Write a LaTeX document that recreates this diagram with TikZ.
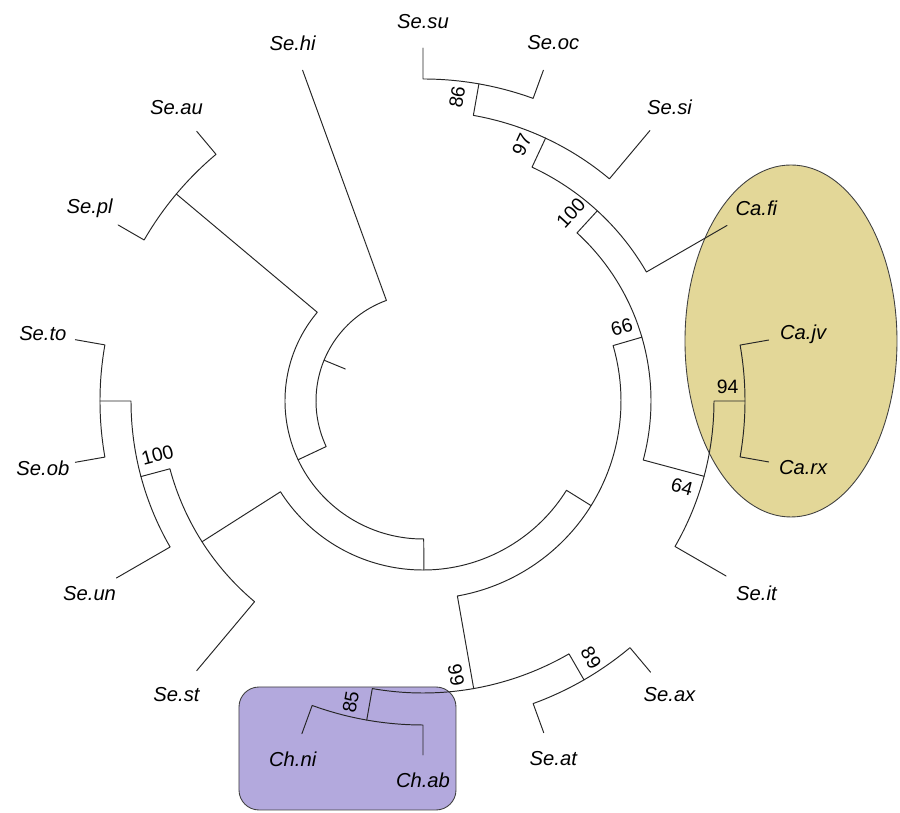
\documentclass[tikz,border=0pt]{standalone}
\usepackage{fontspec}
\setmainfont{Liberation Sans}
\pgfdeclarelayer{shadelayer}
\pgfsetlayers{shadelayer,main}
\definecolor{cladeyellow}{RGB}{227,215,152}
\definecolor{cladepurple}{RGB}{179,169,221}
\tikzstyle{edge}=[draw=black!85, line width=0.55pt, line cap=round, line join=round]
\tikzstyle{shade}=[draw=black!75, line width=0.5pt]
\tikzstyle{taxon}=[font=\fontsize{11.5}{13}\selectfont\itshape, inner sep=0pt]
\tikzstyle{boot}=[font=\fontsize{11}{13}\selectfont, inner sep=0pt]

\begin{document}
\begin{tikzpicture}[x=0.02cm, y=0.02cm]
\useasboundingbox (-423,-412) rectangle (477,401);
						\begin{pgfonlayer}{shadelayer}
							\draw [style=shade, fill=cladeyellow] (368,60) ellipse [x radius=106, y radius=176];
							\draw [style=shade, fill=cladepurple, rounded corners=0.4cm] (-184,-409) rectangle (33,-286);
						\end{pgfonlayer}
						% node and tip positions
						\coordinate (rt) at (157.6:107);
						\coordinate (rtE) at (157.6:84);
						\coordinate (seHi0) at (110:107);
						\coordinate (seHi) at (110:352);
						\coordinate (nB0) at (205.2:107);
						\coordinate (nB) at (205.2:138);
						\coordinate (nQ0) at (140:138);
						\coordinate (nQ) at (140:322);
						\coordinate (seAu0) at (130:322);
						\coordinate (seAu) at (130:352);
						\coordinate (sePl0) at (150:322);
						\coordinate (sePl) at (150:352);
						\coordinate (nC0) at (270.3:138);
						\coordinate (nC) at (270.3:169);
						\coordinate (nF0) at (212.5:169);
						\coordinate (nF) at (212.5:262);
						\coordinate (nE0) at (195:262);
						\coordinate (nE) at (195:292);
						\coordinate (seSt0) at (230:262);
						\coordinate (seSt) at (230:352);
						\coordinate (nT0) at (180:292);
						\coordinate (nT) at (180:323);
						\coordinate (seUn0) at (210:292);
						\coordinate (seUn) at (210:354);
						\coordinate (seTo0) at (170:323);
						\coordinate (seTo) at (170:353);
						\coordinate (seOb0) at (190:323);
						\coordinate (seOb) at (190:353);
						\coordinate (nG0) at (328.1:169);
						\coordinate (nG) at (328.1:198);
						\coordinate (nH0) at (280:198);
						\coordinate (nH) at (280:292);
						\coordinate (nJ0) at (260:292);
						\coordinate (nJ) at (260:324);
						\coordinate (nI0) at (300:292);
						\coordinate (nI) at (300:322);
						\coordinate (chNi0) at (250:324);
						\coordinate (chNi) at (250:354);
						\coordinate (chAb0) at (270:324);
						\coordinate (chAb) at (270:354);
						\coordinate (seAt0) at (290:322);
						\coordinate (seAt) at (290:353);
						\coordinate (seAx0) at (310:322);
						\coordinate (seAx) at (310:354);
						\coordinate (nK0) at (16.25:198);
						\coordinate (nK) at (16.25:228);
						\coordinate (nL0) at (47.5:228);
						\coordinate (nL) at (47.5:258);
						\coordinate (nO0) at (345:228);
						\coordinate (nO) at (345:291);
						\coordinate (caFi0) at (30:258);
						\coordinate (caFi) at (30:351);
						\coordinate (nN0) at (65:258);
						\coordinate (nN) at (65:290);
						\coordinate (seSi0) at (50:290);
						\coordinate (seSi) at (50:353);
						\coordinate (nM0) at (80:290);
						\coordinate (nM) at (80:322);
						\coordinate (seOc0) at (70:322);
						\coordinate (seOc) at (70:352);
						\coordinate (seSu0) at (90:322);
						\coordinate (seSu) at (90:353);
						\coordinate (seIt0) at (330:291);
						\coordinate (seIt) at (330:350);
						\coordinate (nP0) at (0:291);
						\coordinate (nP) at (0:322);
						\coordinate (caRx0) at (350:322);
						\coordinate (caRx) at (350:351);
						\coordinate (caJv0) at (10:322);
						\coordinate (caJv) at (10:351);
						% brackets
						\draw [style=edge] (rt) to (rtE);
						\draw [style=edge] (seHi) -- (seHi0) arc [start angle=110, end angle=205.2, radius=107] -- (nB);
						\draw [style=edge] (nQ) -- (nQ0) arc [start angle=140, end angle=270.3, radius=138] -- (nC);
						\draw [style=edge] (seAu) -- (seAu0) arc [start angle=130, end angle=150, radius=322] -- (sePl);
						\draw [style=edge] (nF) -- (nF0) arc [start angle=212.5, end angle=328.1, radius=169] -- (nG);
						\draw [style=edge] (nE) -- (nE0) arc [start angle=195, end angle=230, radius=262] -- (seSt);
						\draw [style=edge] (nT) -- (nT0) arc [start angle=180, end angle=210, radius=292] -- (seUn);
						\draw [style=edge] (seTo) -- (seTo0) arc [start angle=170, end angle=190, radius=323] -- (seOb);
						\draw [style=edge] (nH) -- (nH0) arc [start angle=280, end angle=376.25, radius=198] -- (nK);
						\draw [style=edge] (nJ) -- (nJ0) arc [start angle=260, end angle=300, radius=292] -- (nI);
						\draw [style=edge] (chNi) -- (chNi0) arc [start angle=250, end angle=270, radius=324] -- (chAb);
						\draw [style=edge] (seAt) -- (seAt0) arc [start angle=290, end angle=310, radius=322] -- (seAx);
						\draw [style=edge] (nO) -- (nO0) arc [start angle=345, end angle=407.5, radius=228] -- (nL);
						\draw [style=edge] (caFi) -- (caFi0) arc [start angle=30, end angle=65, radius=258] -- (nN);
						\draw [style=edge] (seSi) -- (seSi0) arc [start angle=50, end angle=80, radius=290] -- (nM);
						\draw [style=edge] (seOc) -- (seOc0) arc [start angle=70, end angle=90, radius=322] -- (seSu);
						\draw [style=edge] (seIt) -- (seIt0) arc [start angle=330, end angle=360, radius=291] -- (nP);
						\draw [style=edge] (caRx) -- (caRx0) arc [start angle=350, end angle=370, radius=322] -- (caJv);
						% tip labels
						\node [style=taxon] (seSuT) at (90:379) {Se.su};
						\node [style=taxon] (seOcT) at (70:381) {Se.oc};
						\node [style=taxon] (seSiT) at (50:383.5) {Se.si};
						\node [style=taxon] (caFiT) at (30:385) {Ca.fi};
						\node [style=taxon] (caJvT) at (10:386) {Ca.jv};
						\node [style=taxon] (caRxT) at (350:386) {Ca.rx};
						\node [style=taxon] (seItT) at (330:385) {Se.it};
						\node [style=taxon] (seAxT) at (310:383.5) {Se.ax};
						\node [style=taxon] (seAtT) at (290:381) {Se.at};
						\node [style=taxon] (chAbT) at (270:379) {Ch.ab};
						\node [style=taxon] (chNiT) at (250:381) {Ch.ni};
						\node [style=taxon] (seStT) at (230:383.5) {Se.st};
						\node [style=taxon] (seUnT) at (210:385) {Se.un};
						\node [style=taxon] (seObT) at (190:386) {Se.ob};
						\node [style=taxon] (seToT) at (170:386) {Se.to};
						\node [style=taxon] (sePlT) at (150:385) {Se.pl};
						\node [style=taxon] (seAuT) at (130:383.5) {Se.au};
						\node [style=taxon] (seHiT) at (110:381) {Se.hi};
						% support values
						\node [style=boot, rotate=80] (b86) at (83.6:306) {86};
						\node [style=boot, rotate=65] (b97) at (68.9:274.5) {97};
						\node [style=boot, rotate=47.5] (b100r) at (51.8:239) {100};
						\node [style=boot, rotate=16] (b66) at (20.4:212) {66};
						\node [style=boot, rotate=-15] (b64) at (-18.4:273) {64};
						\node [style=boot] (b94) at (2.6:305) {94};
						\node [style=boot, rotate=15] (b100l) at (191.5:271) {100};
						\node [style=boot, rotate=-80] (b99) at (276.9:276) {99};
						\node [style=boot, rotate=-60] (b89) at (303.2:307) {89};
						\node [style=boot, rotate=80] (b85) at (256.5:309.5) {85};
					\end{tikzpicture}
\end{document}
